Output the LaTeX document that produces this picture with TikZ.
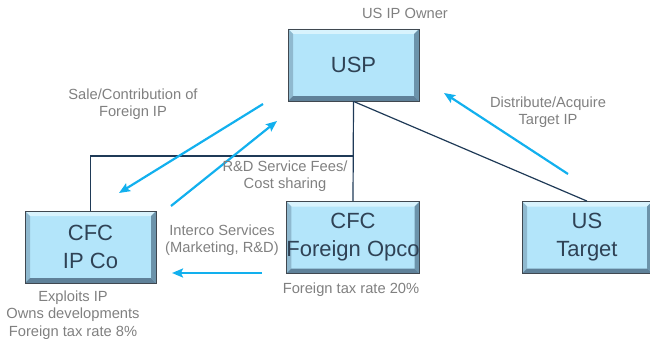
\documentclass[tikz,border=0pt]{standalone}
\usepackage{fontspec}
\setmainfont{Liberation Sans}
\usetikzlibrary{arrows.meta}
\definecolor{boxfill}{HTML}{B3E5FA}
\definecolor{bevtop}{HTML}{D8F3FD}
\definecolor{bevleft}{HTML}{8FB9CF}
\definecolor{bevright}{HTML}{6C93AA}
\definecolor{bevbot}{HTML}{5F8199}
\definecolor{boxedge}{HTML}{404850}
\definecolor{boxtext}{HTML}{2F4255}
\definecolor{labelgray}{HTML}{808080}
\definecolor{arrowblue}{HTML}{12B0EE}
\definecolor{treeline}{HTML}{1F3A57}
\tikzset{
  boxnode/.style={rectangle, minimum width=131pt, minimum height=72pt, inner sep=0pt,
    fill=boxfill, draw=boxedge, line width=0.8pt, text=boxtext, align=center,
    font=\fontsize{22}{28}\selectfont,
    path picture={
      \path (path picture bounding box.north west) coordinate (pnw)
            (path picture bounding box.north east) coordinate (pne)
            (path picture bounding box.south west) coordinate (psw)
            (path picture bounding box.south east) coordinate (pse);
      \fill[bevtop] (pnw) -- (pne) -- ([xshift=-5pt,yshift=-5pt]pne) -- ([xshift=5pt,yshift=-5pt]pnw) -- cycle;
      \fill[bevleft] (pnw) -- ([xshift=5pt,yshift=-5pt]pnw) -- ([xshift=5pt,yshift=5pt]psw) -- (psw) -- cycle;
      \fill[bevright] (pne) -- (pse) -- ([xshift=-5pt,yshift=5pt]pse) -- ([xshift=-5pt,yshift=-5pt]pne) -- cycle;
      \fill[bevbot] (psw) -- ([xshift=5pt,yshift=5pt]psw) -- ([xshift=-5pt,yshift=5pt]pse) -- (pse) -- cycle;
    }},
  lbl/.style={text=labelgray, align=center, inner sep=0pt, font=\fontsize{14.7}{17.5}\selectfont},
  tree/.style={draw=treeline, line width=1.2pt},
  flow/.style={draw=arrowblue, line width=2.2pt, -{Stealth[length=11pt,width=9pt,inset=2pt]}},
}
\begin{document}
\begin{tikzpicture}[x=1pt,y=-1pt]
\useasboundingbox (0,0) rectangle (650,345);
% boxes
\node[boxnode] (usp) at (353.5,65) {USP};
\node[boxnode] (ipco) at (90.5,247) {CFC\\IP Co};
\node[boxnode] (opco) at (353,237.5) {CFC\\Foreign Opco};
\node[boxnode, minimum width=130pt] (target) at (587,237.5) {US\\Target};
% tree lines
\coordinate (br) at (353.5,156);
\draw[tree] (usp.south) -- (opco.north);
\draw[tree] (br) -| (ipco.north);
\draw[tree] (usp.south) -- (target.north);
% blue arrows
\coordinate (a1s) at (263,104); \coordinate (a1e) at (119,193);
\coordinate (a2s) at (171,206); \coordinate (a2e) at (277,121);
\coordinate (a3s) at (568,174); \coordinate (a3e) at (444,93);
\coordinate (a4s) at (262,273); \coordinate (a4e) at (172,273);
\draw[flow] (a1s) -- (a1e);
\draw[flow] (a2s) -- (a2e);
\draw[flow] (a3s) -- (a3e);
\draw[flow] (a4s) -- (a4e);
% labels
\node[lbl] (owner) at (405,13) {US IP Owner};
\node[lbl] (sale) at (133,104) {Sale/Contribution of\\Foreign IP};
\node[lbl] (dist) at (548,112) {Distribute/Acquire\\Target IP};
\node[lbl] (rnd) at (285,176) {R\&D Service Fees/\\Cost sharing};
\node[lbl] (interco) at (222,240) {Interco Services\\(Marketing, R\&D)};
\node[lbl] (exploits) at (73,315) {Exploits IP\\Owns developments\\Foreign tax rate 8\%};
\node[lbl] (tax20) at (351,290) {Foreign tax rate 20\%};
\end{tikzpicture}
\end{document}
